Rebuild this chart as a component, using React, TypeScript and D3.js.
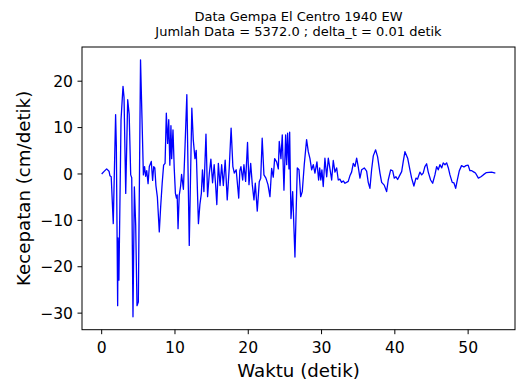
import * as d3 from 'd3';

// El Centro 1940 EW velocity record
const time = [
  0, 0.3, 0.68, 1.0, 1.13, 1.3, 1.58, 1.9, 2.0, 2.18,
  2.23, 2.35, 2.64, 2.91, 3.05, 3.28, 3.55, 3.75, 3.96, 4.1,
  4.27, 4.46, 4.64, 4.82, 5.0, 5.3, 5.5, 5.69, 5.85, 6.0,
  6.15, 6.33, 6.5, 6.77, 6.95, 7.1, 7.25, 7.4, 7.6, 7.86,
  8.05, 8.25, 8.45, 8.65, 8.82, 9.0, 9.15, 9.3, 9.45, 9.55,
  9.73, 9.9, 10.06, 10.2, 10.3, 10.42, 10.58, 10.77, 10.9, 11.05,
  11.15, 11.27, 11.38, 11.62, 11.95, 12.3, 12.5, 12.73, 12.9, 13.2,
  13.4, 13.6, 13.75, 13.95, 14.23, 14.45, 14.68, 14.9, 15.13, 15.35,
  15.55, 15.71, 15.92, 16.15, 16.37, 16.6, 16.85, 17.13, 17.4, 17.66,
  17.9, 18.1, 18.35, 18.7, 18.85, 19.0, 19.24, 19.41, 19.64, 19.9,
  20.1, 20.33, 20.55, 20.78, 20.96, 21.23, 21.5, 21.7, 21.9, 22.14,
  22.41, 22.69, 22.96, 23.19, 23.41, 23.6, 23.87, 24.1, 24.23, 24.46,
  24.64, 24.87, 25.1, 25.24, 25.37, 25.55, 25.65, 25.83, 26.06, 26.37,
  26.69, 26.92, 27.15, 27.37, 27.64, 27.96, 28.19, 28.42, 28.65, 28.87,
  29.1, 29.37, 29.6, 29.75, 29.9, 30.05, 30.23, 30.46, 30.7, 30.92,
  31.15, 31.38, 31.6, 31.83, 32.06, 32.28, 32.5, 32.74, 32.96, 33.2,
  33.64, 33.87, 34.1, 34.33, 34.56, 34.79, 35.0, 35.24, 35.47, 35.83,
  36.15, 36.37, 36.6, 36.83, 37.06, 37.38, 37.65, 37.97, 38.2, 38.55,
  38.88, 39.1, 39.43, 39.7, 39.92, 40.15, 40.38, 40.7, 40.93, 41.15,
  41.38, 41.75, 42.06, 42.29, 42.6, 42.88, 43.1, 43.42, 43.66, 43.87,
  44.1, 44.34, 44.56, 44.88, 45.16, 45.47, 45.7, 45.92, 46.15, 46.4,
  46.6, 46.84, 47.07, 47.3, 47.52, 47.83, 48.06, 48.3, 48.5, 48.8,
  49.1, 49.43, 49.7, 50.0, 50.25, 50.5, 50.8, 51.0, 51.4, 51.75,
  52.06, 52.5, 53.2, 53.71,
];

const velocity = [
  0, 0.5, 1.1, 0.6, -0.4, -0.6, -10.7, 12.8, 6, -28.4,
  -13.8, -22.9, 11.7, 18.9, 16.5, -4.2, 16, 12.9, -0.2, -0.8,
  -30.8, -2.8, -11, -28.4, -27.6, 24.6, 12, -0.2, 1.6, -0.5,
  0.7, -2.1, 1.6, 2.7, -1.4, 1.6, 1.3, -2.5, -5, -12.5,
  -7, -2.1, 1.9, 2.3, 13.1, 6.6, 11.7, 1.9, 10.4, 3.3,
  9.5, 1.2, -4.2, -5.2, -4.5, -11.8, -4.6, -2.6, -0.1, -2.0,
  -3.3, 1.6, 6.3, 17.1, -15.4, 14.2, 7.3, 3.3, 5.1, -10.7,
  -6.6, -4.2, 0.9, -3.8, 8.6, -4.9, 0, 3.2, -1.9, 2,
  -2.5, -6.6, 2.3, -2.5, 2, -2.5, 3, -5.6, 1.2, 9.9,
  1.6, 0.2, 0.9, -5.2, 0.7, 1.6, -1.3, 2, -1.6, 6.8,
  -2.3, 2.3, -2.3, -5.6, -2, -8, -1.7, -0.9, 7.7, -0.2,
  -0.9, -2.3, -4.9, 1.2, -0.7, 3.3, 2.6, 1.1, 7, 3.3,
  8.4, -3.5, 8.4, 2, 8.8, 1.1, 9, -9.6, -3.8, -17.9,
  1.3, 0.9, -4.9, -3.8, 2, 7.4, 4.8, 3.3, 0.9, 2,
  0.2, 2.6, -1.3, 1.3, -1.3, 0.9, -2.7, 3.4, -0.6, 3.4,
  1.1, -1.3, 2.9, 0.4, 1.3, -1.3, -1.1, -1.8, -1.5, -2,
  -1.6, -0.4, 0.4, 2.3, 1.6, 3.4, 1.6, -0.9, 0.9, 1.3,
  0.6, -1.8, -3.1, 0.9, 3.9, 5.2, 3.7, 0.2, -1.8, -2.4,
  -3.8, -1.3, 0.9, 0.7, -0.9, -0.6, -1.2, -0.2, 0.5, 2.7,
  4.8, 3.4, 0.9, -0.9, -2.6, -0.9, -1.1, 0.4, -0.2, 0.2,
  1.6, 2.2, 0.4, -1.3, -2, -0.2, 1.6, 0.9, 2.0, 1.3,
  2.4, 2.0, 2.4, 1.3, -0.2, -1.8, -1.9, -3.1, -1.5, 0.7,
  1.8, 1.5, 1.8, 1.9, 0.7, 0.7, 0.4, 0.2, -0.9, -0.6,
  -0.2, 0.3, 0.4, 0.2,
];

const xTicks = [0, 10, 20, 30, 40, 50];
const yTicks = [-30, -20, -10, 0, 10, 20];

const title1 = 'Data Gempa El Centro 1940 EW';
const title2 = 'Jumlah Data = 5372.0 ; delta_t = 0.01 detik';

// pad extent by 5% on each side, like matplotlib's auto margins
function padded(values: number[]): [number, number] {
  const [lo, hi] = d3.extent(values) as [number, number];
  const m = (hi - lo) * 0.05;
  return [lo - m, hi + m];
}

export default function App() {
  const width = 516;
  const height = 381;
  const left = 82;
  const right = 515;
  const top = 47;
  const bottom = 329.7;
  const font = 'DejaVu Sans, sans-serif';
  const fmt = d3.format('d');

  const x = d3.scaleLinear().domain(padded(time)).range([left, right]);
  const y = d3.scaleLinear().domain(padded(velocity)).range([bottom, top]);

  const line = d3
    .line<number>()
    .x((d, i) => x(time[i]))
    .y((d) => y(d));

  return (
    <svg
      width={width}
      height={height}
      style={{ position: 'absolute', left: 0, top: 0, background: '#fff' }}
      fontFamily={font}
    >
      <defs>
        <clipPath id="plot">
          <rect x={left} y={top} width={right - left} height={bottom - top} />
        </clipPath>
      </defs>

      <text x={(left + right) / 2} y={21} fontSize={13} textAnchor="middle" fill="#000">
        {title1}
      </text>
      <text x={(left + right) / 2} y={36} fontSize={13} textAnchor="middle" fill="#000">
        {title2}
      </text>

      <path
        d={line(velocity) ?? ''}
        fill="none"
        stroke="#0000ff"
        strokeWidth={1.3}
        strokeLinejoin="round"
        clipPath="url(#plot)"
      />

      <rect
        x={left}
        y={top}
        width={right - left}
        height={bottom - top}
        fill="none"
        stroke="#000"
        strokeWidth={1}
      />

      <g>
        {xTicks.map((t) => (
          <g key={t} transform={`translate(${x(t)},${bottom})`}>
            <line y1={0} y2={4.5} stroke="#000" strokeWidth={1} />
            <text y={23} fontSize={15.6} textAnchor="middle" fill="#000">
              {fmt(t)}
            </text>
          </g>
        ))}
      </g>

      <g>
        {yTicks.map((t) => (
          <g key={t} transform={`translate(${left},${y(t)})`}>
            <line x1={0} x2={-4.5} stroke="#000" strokeWidth={1} />
            <text x={-9} dy="0.36em" fontSize={15.6} textAnchor="end" fill="#000">
              {fmt(t)}
            </text>
          </g>
        ))}
      </g>

      <text x={(left + right) / 2} y={377} fontSize={18.2} textAnchor="middle" fill="#000">
        Waktu (detik)
      </text>
      <text
        transform={`translate(30,${(top + bottom) / 2}) rotate(-90)`}
        fontSize={18.2}
        textAnchor="middle"
        fill="#000"
      >
        Kecepatan (cm/detik)
      </text>
    </svg>
  );
}
